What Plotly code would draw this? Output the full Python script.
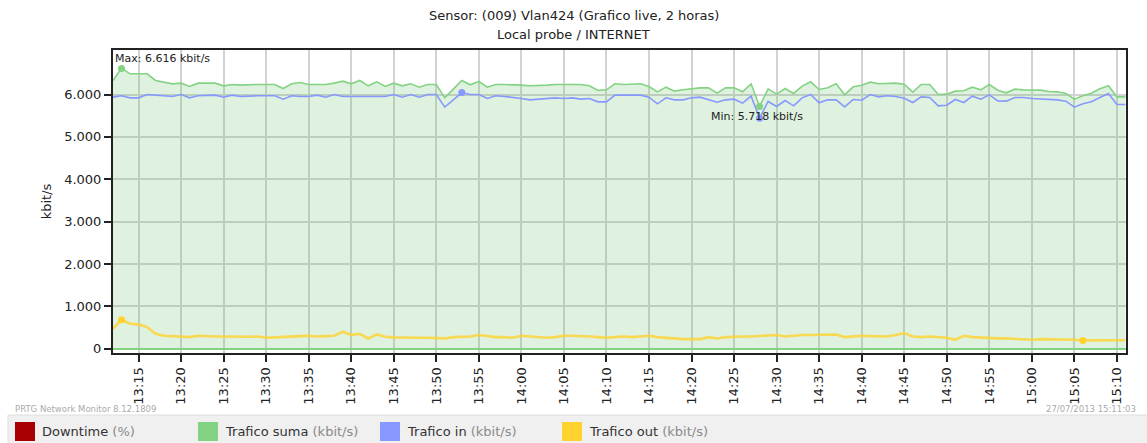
import numpy as np
import pandas as pd
import plotly.graph_objects as go

# Sampling: one value per minute, 13:12 .. 15:11
start_time = "2013-07-27 13:12:00"
n_points = 120

# Trafico suma (kbit/s)
trafico_suma = [
    6331, 6616, 6488, 6488, 6488, 6331, 6299, 6252, 6268, 6189,
    6268, 6268, 6268, 6205, 6236, 6220, 6236, 6236, 6236, 6236,
    6142, 6252, 6283, 6236, 6236, 6236, 6268, 6315, 6252, 6331,
    6205, 6299, 6189, 6268, 6205, 6252, 6173, 6236, 6236, 5921,
    6126, 6331, 6228, 6307, 6173, 6236, 6236, 6236, 6220, 6205,
    6205, 6220, 6236, 6236, 6236, 6236, 6205, 6094, 6110, 6252,
    6236, 6236, 6252, 6189, 6063, 6173, 6079, 6110, 6142, 6157,
    6157, 6031, 6157, 6157, 6063, 6252, 5718, 6134, 6008, 6142,
    6024, 6197, 6299, 6118, 6157, 6252, 5992, 6181, 6220, 6291,
    6252, 6268, 6268, 6244, 6055, 6236, 6236, 6000, 6008, 6079,
    6087, 6173, 6110, 6236, 6102, 6039, 6126, 6110, 6102, 6102,
    6071, 6063, 6024, 5890, 5969, 6031, 6134, 6205, 5945, 5945,
]

# Trafico in (kbit/s)
trafico_in = [
    5937, 5969, 5921, 5921, 6000, 5984, 5969, 5953, 6000, 5921,
    5969, 5984, 5984, 5937, 5984, 5953, 5969, 5969, 5969, 5969,
    5890, 5969, 5953, 5953, 5984, 5937, 6000, 5953, 5953, 5953,
    5953, 5953, 5953, 6000, 5937, 6000, 5937, 6000, 6000, 5701,
    5874, 6045, 6000, 6000, 5906, 5969, 5953, 5937, 5906, 5874,
    5890, 5906, 5921, 5906, 5921, 5890, 5906, 5827, 5827, 5984,
    5984, 5984, 5984, 5937, 5780, 5921, 5874, 5874, 5921, 5937,
    5874, 5819, 5874, 5890, 5795, 5961, 5440, 5835, 5717, 5858,
    5732, 5921, 6000, 5803, 5874, 5874, 5709, 5882, 5866, 6000,
    5945, 5969, 5953, 5913, 5811, 5945, 5929, 5732, 5748, 5882,
    5811, 5961, 5890, 5992, 5850, 5843, 5929, 5929, 5906, 5898,
    5882, 5874, 5843, 5701, 5780, 5827, 5929, 6024, 5764, 5764,
]

# Trafico out (kbit/s)
trafico_out = [
    472, 685, 590, 575, 512, 354, 307, 291, 275, 275,
    307, 291, 291, 291, 283, 275, 283, 291, 260, 268,
    275, 275, 299, 307, 291, 299, 307, 401, 323, 354,
    244, 338, 283, 268, 260, 260, 260, 260, 244, 244,
    275, 275, 291, 323, 291, 275, 275, 260, 307, 291,
    275, 260, 275, 307, 307, 307, 291, 275, 260, 275,
    291, 275, 291, 307, 275, 260, 228, 228, 228, 228,
    275, 244, 275, 291, 291, 291, 307, 307, 323, 291,
    315, 323, 323, 323, 323, 338, 275, 291, 307, 299,
    291, 291, 323, 370, 291, 275, 291, 275, 260, 212,
    307, 275, 260, 252, 244, 244, 228, 220, 212, 228,
    228, 228, 228, 212, 197, 200, 200, 200, 200, 200,
]

y_tick_values = [0, 1000, 2000, 3000, 4000, 5000, 6000]

times = pd.date_range(start_time, periods=n_points, freq="min")

GREEN = "#84d284"
BLUE = "#8799ff"
YELLOW = "#ffd22e"
RED = "#a80000"
GRID = "#d2d2d2"
FONT = "DejaVu Sans"

W, H = 1147, 443
M_L, M_R, M_T, M_B = 113, 21, 50, 90
PW = W - M_L - M_R
PH = H - M_T - M_B


def px(xp):
    return (xp - M_L) / PW


def py(yp):
    return (H - M_B - yp) / PH


fig = go.Figure()

# Trafico suma: filled area with outline
fig.add_trace(go.Scatter(
    x=times, y=trafico_suma, mode="lines", fill="tozeroy",
    fillcolor="rgba(120,200,120,0.24)",
    line=dict(color=GREEN, width=1.6), hoverinfo="skip",
))
# Trafico in
fig.add_trace(go.Scatter(
    x=times, y=trafico_in, mode="lines",
    line=dict(color=BLUE, width=1.6), hoverinfo="skip",
))
# Trafico out
fig.add_trace(go.Scatter(
    x=times, y=trafico_out, mode="lines",
    line=dict(color="rgba(255,210,46,0.8)", width=2.6), hoverinfo="skip",
))

# Min / max dots for each channel
for series, color in ((trafico_suma, GREEN), (trafico_in, BLUE), (trafico_out, YELLOW)):
    arr = np.asarray(series)
    idx = [int(arr.argmax()), int(arr.argmin())]
    fig.add_trace(go.Scatter(
        x=[times[i] for i in idx], y=[series[i] for i in idx], mode="markers",
        marker=dict(color=color, size=7), hoverinfo="skip",
    ))

suma = np.asarray(trafico_suma)
i_max, i_min = int(suma.argmax()), int(suma.argmin())


def fmt(v):
    return f"{v:,.0f}".replace(",", ".")


annotations = [
    dict(x=times[i_max], y=trafico_suma[i_max], xref="x", yref="y",
         text=f"Max: {fmt(trafico_suma[i_max])} kbit/s", showarrow=False,
         xanchor="left", yanchor="middle", xshift=-9, yshift=10,
         font=dict(family=FONT, size=11, color="#222")),
    dict(x=times[i_min], y=trafico_suma[i_min], xref="x", yref="y",
         text=f"Min: {fmt(trafico_suma[i_min])} kbit/s", showarrow=False,
         xanchor="left", yanchor="middle", xshift=-51, yshift=-10,
         font=dict(family=FONT, size=11, color="#222")),
    # title
    dict(x=px(573.5), y=py(15), xref="paper", yref="paper", showarrow=False,
         text="Sensor: (009) Vlan424 (Grafico live, 2 horas)",
         xanchor="center", yanchor="middle",
         font=dict(family=FONT, size=13, color="#222")),
    dict(x=px(573.5), y=py(35), xref="paper", yref="paper", showarrow=False,
         text="Local probe / INTERNET", xanchor="center", yanchor="middle",
         font=dict(family=FONT, size=13, color="#222")),
    # footer
    dict(x=px(13), y=py(409), xref="paper", yref="paper", showarrow=False,
         text="PRTG Network Monitor 8.12.1809", xanchor="left", yanchor="middle",
         font=dict(family=FONT, size=8.5, color="#aaaaaa")),
    dict(x=px(1138), y=py(409), xref="paper", yref="paper", showarrow=False,
         text="27/07/2013 15:11:03", xanchor="right", yanchor="middle",
         font=dict(family=FONT, size=8.5, color="#aaaaaa")),
]

shapes = [
    # legend strip
    dict(type="rect", xref="paper", yref="paper", x0=px(8), x1=px(1150),
         y0=py(415), y1=py(446), fillcolor="#f0f0f0",
         line=dict(color="#dddddd", width=1), layer="below"),
]

legend_items = [
    (15, RED, "Downtime", "(%)"),
    (198, GREEN, "Trafico suma", "(kbit/s)"),
    (380, BLUE, "Trafico in", "(kbit/s)"),
    (562, YELLOW, "Trafico out", "(kbit/s)"),
]
for x0, color, name, unit in legend_items:
    shapes.append(dict(type="rect", xref="paper", yref="paper",
                       x0=px(x0), x1=px(x0 + 20), y0=py(422), y1=py(441),
                       fillcolor=color, line=dict(width=0)))
    annotations.append(dict(
        x=px(x0 + 25), y=py(431.5), xref="paper", yref="paper", showarrow=False,
        xanchor="left", yanchor="middle",
        text=f"{name} <span style='color:#8a8a8a'>{unit}</span>",
        font=dict(family=FONT, size=13, color="#333")))

fig.update_layout(
    width=W, height=H,
    margin=dict(l=M_L, r=M_R, t=M_T, b=M_B, pad=0),
    paper_bgcolor="white", plot_bgcolor="white",
    showlegend=False,
    separators=",.",
    font=dict(family=FONT, size=13, color="#222"),
    annotations=annotations,
    shapes=shapes,
)

fig.update_xaxes(
    type="date",
    range=["2013-07-27 13:12:00", "2013-07-27 15:11:04"],
    tick0="2013-07-27 13:15:00", dtick=300000, tickformat="%H:%M",
    tickangle=-90, ticks="outside", ticklen=7, tickwidth=1.5, tickcolor="#222",
    tickfont=dict(family=FONT, size=13, color="#222"),
    showgrid=True, gridcolor=GRID, gridwidth=1.5,
    showline=True, linecolor="#222", linewidth=2, mirror=True,
    zeroline=False,
)
fig.update_yaxes(
    range=[-100, 7050],
    tickmode="array", tickvals=y_tick_values, tickformat=",d",
    ticks="outside", ticklen=7, tickwidth=1.5, tickcolor="#222",
    tickfont=dict(family=FONT, size=13, color="#222"),
    showgrid=True, gridcolor=GRID, gridwidth=1.5,
    showline=True, linecolor="#222", linewidth=2, mirror=True,
    zeroline=True, zerolinecolor=GREEN, zerolinewidth=1.6,
    title=dict(text="kbit/s", standoff=10, font=dict(family=FONT, size=13, color="#222")),
)

fig.write_html("out.html")
